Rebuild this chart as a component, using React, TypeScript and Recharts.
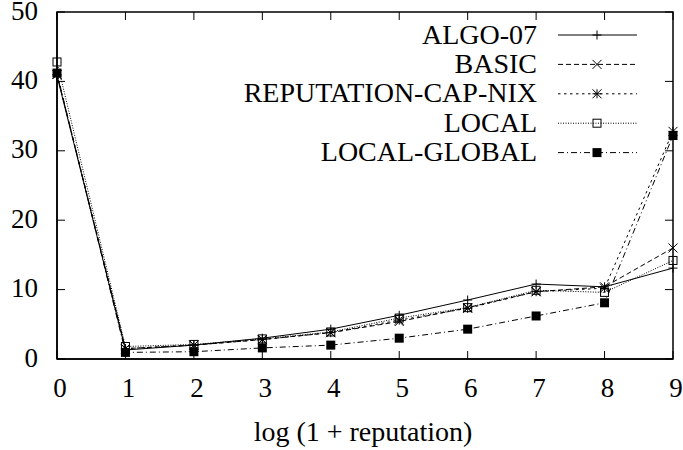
import React from 'react';
import { LineChart, Line, XAxis, YAxis, Legend, ReferenceArea } from 'recharts';

const xValues = [0, 1, 2, 3, 4, 5, 6, 7, 8, 9];
const algo07 = [40.8, 1.3, 2.0, 3.0, 4.3, 6.3, 8.5, 10.8, 10.4, 13.1];
const basic = [41.0, 1.5, 2.0, 2.8, 3.8, 5.4, 7.4, 9.7, 10.4, 16.0];
const repCapNix = [41.0, 1.5, 2.0, 2.8, 3.8, 5.6, 7.3, 9.7, 10.2, 32.8];
const local = [42.8, 1.8, 2.1, 2.9, 3.9, 5.9, 7.4, 9.9, 9.6, 14.2];
const localGlobal = [41.2, 0.95, 1.05, 1.6, 2.0, 3.0, 4.3, 6.2, 8.1, 32.2];

const xTicks = [0, 1, 2, 3, 4, 5, 6, 7, 8, 9];
const yTicks = [0, 10, 20, 30, 40, 50];
const seriesNames = ['ALGO-07', 'BASIC', 'REPUTATION-CAP-NIX', 'LOCAL', 'LOCAL-GLOBAL'];
const xLabel = 'log (1 + reputation)';

const textStyle = { fontFamily: 'Tinos' };

const PLOT_W = 616;
const PLOT_H = 347;

const data = xValues.map((x, i) => ({
  x,
  s0: algo07[i],
  s1: basic[i],
  s2: repCapNix[i],
  s3: local[i],
  s4: localGlobal[i],
}));

type Kind = 'plus' | 'cross' | 'star' | 'box' | 'fbox';

const styles: { key: string; dash: string | undefined; kind: Kind }[] = [
  { key: 's0', dash: undefined, kind: 'plus' },
  { key: 's1', dash: '5 3', kind: 'cross' },
  { key: 's2', dash: '2.5 3.5', kind: 'star' },
  { key: 's3', dash: '1 1.5', kind: 'box' },
  { key: 's4', dash: '6 3 1 3', kind: 'fbox' },
];

function Marker({ cx, cy, kind }: { cx: number; cy: number; kind: Kind }) {
  const s = 4.5;
  if (cx == null || cy == null || isNaN(cx) || isNaN(cy)) return null;
  const plus = `M${cx - s},${cy}H${cx + s}M${cx},${cy - s}V${cy + s}`;
  const cross = `M${cx - s},${cy - s}L${cx + s},${cy + s}M${cx - s},${cy + s}L${cx + s},${cy - s}`;
  switch (kind) {
    case 'plus':
      return <path d={plus} stroke="#000" strokeWidth={1} fill="none" />;
    case 'cross':
      return <path d={cross} stroke="#000" strokeWidth={1} fill="none" />;
    case 'star':
      return <path d={plus + cross} stroke="#000" strokeWidth={1} fill="none" />;
    case 'box':
      return <rect x={cx - 4} y={cy - 4} width={8} height={8} stroke="#000" strokeWidth={1} fill="none" />;
    case 'fbox':
      return <rect x={cx - 4.5} y={cy - 4.5} width={9} height={9} fill="#000" stroke="none" />;
  }
  return null;
}

function BottomTick(props: any) {
  const { x, y, payload } = props;
  return (
    <g>
      <line x1={x} y1={y} x2={x} y2={y - 8} stroke="#000" strokeWidth={1} />
      <line x1={x} y1={y - PLOT_H} x2={x} y2={y - PLOT_H + 8} stroke="#000" strokeWidth={1} />
      <text x={x + 3} y={y + 38} textAnchor="middle" style={textStyle} fontSize={27} fill="#000">
        {payload.value}
      </text>
    </g>
  );
}

function LeftTick(props: any) {
  const { x, y, payload } = props;
  return (
    <g>
      <line x1={x} y1={y} x2={x + 8} y2={y} stroke="#000" strokeWidth={1} />
      <line x1={x + PLOT_W} y1={y} x2={x + PLOT_W - 8} y2={y} stroke="#000" strokeWidth={1} />
      <text x={x - 19} y={y + 7.5} textAnchor="end" style={textStyle} fontSize={27} fill="#000">
        {payload.value}
      </text>
    </g>
  );
}

function LegendBox() {
  return (
    <svg width={683} height={180} style={{ display: 'block' }}>
      {seriesNames.map((name, i) => {
        const cy = 35 + i * 29.4;
        const st = styles[i];
        return (
          <g key={name}>
            <text x={537} y={cy + 8.5} textAnchor="end" style={textStyle} fontSize={28} fill="#000">
              {name}
            </text>
            <line x1={558} y1={cy} x2={637} y2={cy} stroke="#000" strokeWidth={1} strokeDasharray={st.dash} />
            <Marker cx={597} cy={cy} kind={st.kind} />
          </g>
        );
      })}
    </svg>
  );
}

export default function App() {
  return (
    <div style={{ position: 'absolute', left: 0, top: 0, background: '#fff' }}>
      <LineChart
        width={683}
        height={450}
        data={data}
        margin={{ top: 12, right: 10, bottom: 31, left: 0 }}
      >
        <XAxis
          xAxisId="b"
          dataKey="x"
          type="number"
          domain={[0, 9]}
          ticks={xTicks}
          orientation="bottom"
          height={60}
          tickSize={0}
          tickMargin={0}
          tickLine={false}
          tick={<BottomTick />}
          axisLine={{ stroke: '#000', strokeWidth: 1.5 }}
          interval={0}
          label={(p: any) => {
            const vb = p.viewBox || {};
            return (
              <text x={363} y={(vb.y ?? 359) + 82} textAnchor="middle" style={textStyle} fontSize={28} fill="#000">
                {xLabel}
              </text>
            );
          }}
        />
        <YAxis
          yAxisId="l"
          type="number"
          domain={[0, 50]}
          ticks={yTicks}
          orientation="left"
          width={57}
          tickSize={0}
          tickMargin={0}
          tickLine={false}
          tick={<LeftTick />}
          axisLine={{ stroke: '#000', strokeWidth: 1.5 }}
          interval={0}
        />
        <ReferenceArea
          xAxisId="b"
          yAxisId="l"
          x1={0}
          x2={9}
          y1={0}
          y2={50}
          fill="none"
          fillOpacity={0}
          stroke="#000"
          strokeWidth={1.5}
          ifOverflow="visible"
        />
        {styles.map((st, i) => (
          <Line
            key={st.key}
            xAxisId="b"
            yAxisId="l"
            dataKey={st.key}
            name={seriesNames[i]}
            stroke="#000"
            strokeWidth={1}
            strokeDasharray={st.dash}
            isAnimationActive={false}
            activeDot={false}
            dot={(p: any) => (
              <g key={`${st.key}-${p.index}`}>
                <Marker cx={p.cx} cy={p.cy} kind={st.kind} />
              </g>
            )}
          />
        ))}
        <Legend
          layout="vertical"
          verticalAlign="middle"
          align="center"
          wrapperStyle={{ left: 0, top: 0, width: 683 }}
          content={() => <LegendBox />}
        />
      </LineChart>
    </div>
  );
}
